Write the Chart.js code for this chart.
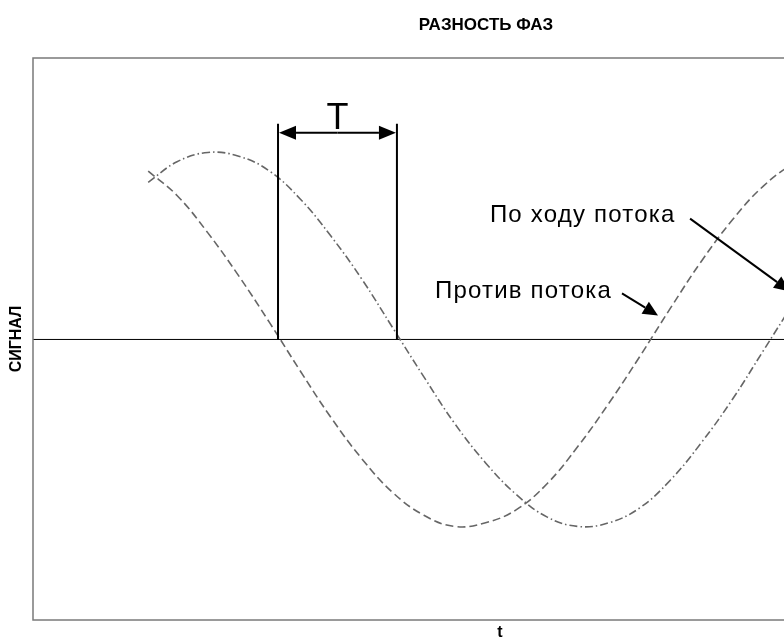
<!DOCTYPE html>
<html><head><meta charset="utf-8">
<script src="https://cdn.jsdelivr.net/npm/chart.js@4.4.0/dist/chart.umd.min.js"></script>
<style>
html,body{margin:0;padding:0;overflow:hidden;background:#fff;width:784px;height:639px}
#wrap{width:972px;height:639px}
</style></head>
<body><div id="wrap"><canvas id="c" width="972" height="639"></canvas></div>
<script>
// ---- data ----
const chartTitle = 'РАЗНОСТЬ ФАЗ';
const xAxisTitle = 't';
const yAxisTitle = 'СИГНАЛ';
const seriesNames = ['Против потока', 'По ходу потока'];
// t in phase degrees
const tValues = [56,70,85,100,115,130,145,160,175,190,205,220,235,250,265,280,295,310,325,340,355,370,385,400,415,430,445,460];
const againstFlow = [0.90,0.77,0.57,0.34,0.09,-0.17,-0.42,-0.64,-0.82,-0.94,-1.00,-0.98,-0.91,-0.77,-0.57,-0.34,-0.09,0.17,0.42,0.64,0.82,0.94,1.00,0.98,0.91,0.77,0.57,0.34];
const withFlow = [0.84,0.95,1.00,0.98,0.90,0.75,0.55,0.32,0.06,-0.20,-0.45,-0.66,-0.83,-0.95,-1.00,-0.98,-0.90,-0.75,-0.55,-0.32,-0.06,0.20,0.45,0.66,0.83,0.95,1.00,0.98];
const zeroLineT = [0, 454];
const zeroLineY = [0, 0];
const periodMarks = [119.1, 176.9];
const periodLabel = 'T';

Chart.defaults.font.family = '"Liberation Sans", Arial, sans-serif';

function arrow(ctx, x0, y0, x1, y1, len, half) {
  const a = Math.atan2(y1 - y0, x1 - x0);
  const bx = x1 - Math.cos(a) * len, by = y1 - Math.sin(a) * len;
  ctx.beginPath(); ctx.moveTo(x0, y0); ctx.lineTo(bx, by); ctx.stroke();
  ctx.beginPath();
  ctx.moveTo(x1, y1);
  ctx.lineTo(bx + Math.sin(a) * half, by - Math.cos(a) * half);
  ctx.lineTo(bx - Math.sin(a) * half, by + Math.cos(a) * half);
  ctx.closePath(); ctx.fill();
}

const annotations = {
  id: 'annotations',
  afterDatasetsDraw(chart) {
    const {ctx, chartArea: a, scales: {x, y}} = chart;
    ctx.save();
    ctx.strokeStyle = '#7a7a7a'; ctx.lineWidth = 1.5;
    ctx.strokeRect(a.left, a.top, a.right - a.left, a.bottom - a.top);

    ctx.strokeStyle = '#000'; ctx.fillStyle = '#000'; ctx.lineWidth = 2;
    const x1 = x.getPixelForValue(periodMarks[0]);
    const x2 = x.getPixelForValue(periodMarks[1]);
    const y0 = y.getPixelForValue(0);
    const yTop = y.getPixelForValue(1.153);
    const yArr = y.getPixelForValue(1.105);
    ctx.beginPath();
    ctx.moveTo(x1, y0); ctx.lineTo(x1, yTop);
    ctx.moveTo(x2, y0); ctx.lineTo(x2, yTop);
    ctx.stroke();
    const mid = (x1 + x2) / 2;
    arrow(ctx, mid, yArr, x1 + 1, yArr, 17, 7);
    arrow(ctx, mid, yArr, x2 - 1, yArr, 17, 7);
    ctx.font = '36px "Liberation Sans", Arial, sans-serif';
    ctx.textAlign = 'center'; ctx.textBaseline = 'alphabetic';
    ctx.fillText(periodLabel, x.getPixelForValue(148.0), y.getPixelForValue(1.126));

    ctx.font = '24px "Liberation Sans", Arial, sans-serif';
    ctx.letterSpacing = '1.2px';
    ctx.textAlign = 'left';
    ctx.fillText(seriesNames[1], x.getPixelForValue(222.1), y.getPixelForValue(0.630));
    ctx.fillText(seriesNames[0], x.getPixelForValue(195.4), y.getPixelForValue(0.224));
    ctx.letterSpacing = '0px';

    arrow(ctx, x.getPixelForValue(319.4), y.getPixelForValue(0.646),
               x.getPixelForValue(368.0), y.getPixelForValue(0.256), 16, 7);
    arrow(ctx, x.getPixelForValue(286.3), y.getPixelForValue(0.246),
               x.getPixelForValue(303.8), y.getPixelForValue(0.128), 15, 7);
    ctx.restore();
  }
};

new Chart(document.getElementById('c'), {
  type: 'line',
  data: {
    datasets: [
      {
        label: seriesNames[0],
        data: tValues.map((t, i) => ({x: t, y: againstFlow[i]})),
        borderColor: '#666666', borderWidth: 1.6, borderDash: [8, 4],
        pointRadius: 0, tension: 0.4, fill: false
      },
      {
        label: seriesNames[1],
        data: tValues.map((t, i) => ({x: t, y: withFlow[i]})),
        borderColor: '#666666', borderWidth: 1.6, borderDash: [8, 3, 1.5, 3],
        pointRadius: 0, tension: 0.4, fill: false
      },
      {
        label: 'zero',
        data: zeroLineT.map((t, i) => ({x: t, y: zeroLineY[i]})),
        borderColor: '#000', borderWidth: 1, pointRadius: 0, fill: false
      }
    ]
  },
  options: {
    responsive: false,
    animation: false,
    events: [],
    layout: {padding: {top: 0, left: 5, right: 5, bottom: 0}},
    plugins: {
      legend: {display: false},
      tooltip: {enabled: false},
      title: {
        display: true, text: chartTitle, color: '#000',
        font: {size: 17, weight: 'bold', lineHeight: 1.2},
        padding: {top: 14.8, bottom: 22.8}
      }
    },
    scales: {
      x: {
        type: 'linear', min: 0, max: 454,
        ticks: {display: false},
        grid: {display: false, drawTicks: false},
        border: {display: false},
        title: {display: true, text: xAxisTitle, color: '#000',
          font: {size: 16, weight: 'bold', lineHeight: 0.8},
          padding: {top: 6.2, bottom: 0}}
      },
      y: {
        type: 'linear', min: -1.5, max: 1.505,
        ticks: {display: false},
        grid: {display: false, drawTicks: false},
        border: {display: false},
        title: {display: true, text: yAxisTitle, color: '#000',
          font: {size: 16, weight: 'bold', lineHeight: 1},
          padding: {top: 4, bottom: 8}}
      }
    }
  },
  plugins: [annotations]
});
</script>
</body></html>
